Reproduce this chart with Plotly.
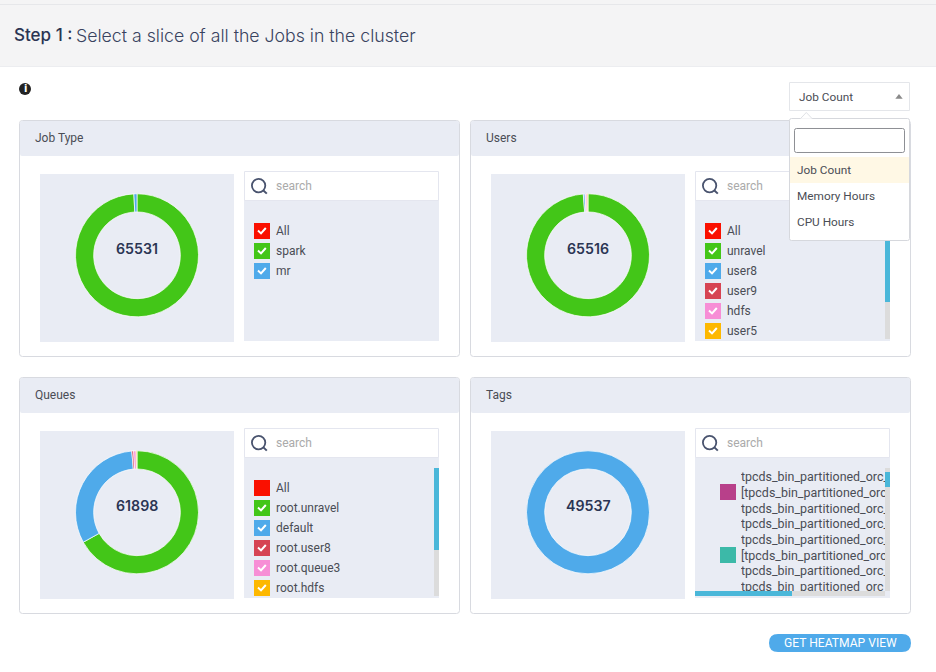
import plotly.graph_objects as go

W, H = 936, 672

# ---- data ----
job_labels = ["spark", "mr"]
job_values = [65000, 531]
job_colors = ["#43c618", "#4faaea"]

user_labels = ["unravel", "user8", "user9", "hdfs", "user5"]
user_values = [64716, 300, 100, 250, 150]
user_colors = ["#43c618", "#4faaea", "#d64453", "#f78ed6", "#fdb800"]

queue_labels = ["root.unravel", "default", "root.user8", "root.queue3", "root.hdfs"]
queue_values = [41420, 19640, 300, 400, 138]
queue_colors = ["#43c618", "#4faaea", "#d64453", "#f78ed6", "#fdb800"]

tag_labels = ["tpcds_bin_partitioned_orc"]
tag_values = [49537]
tag_colors = ["#4faaea"]

tag_rows = ["tpcds_bin_partitioned_orc_100", "[tpcds_bin_partitioned_orc_100", "tpcds_bin_partitioned_orc_100",
            "tpcds_bin_partitioned_orc_100", "tpcds_bin_partitioned_orc_100", "[tpcds_bin_partitioned_orc_100",
            "tpcds_bin_partitioned_orc_100", "tpcds_bin_partitioned_orc_100"]

dropdown_items = ["Job Count", "Memory Hours", "CPU Hours"]

# ---- palette ----
BAND = "#e9ecf4"
BORDER = "#d8dae0"
TXT = "#4a4d55"
NAVY = "#2b3553"
SCROLL = "#4ab7d9"
SCROLL_BG = "#dcdcdc"

px = lambda x: x / W
py = lambda y: 1 - y / H
shapes, notes = [], []


def rect(x0, y0, x1, y1, fill="rgba(0,0,0,0)", line=None, lw=1):
    shapes.append(dict(type="rect", xref="paper", yref="paper", layer="below",
                       x0=px(x0), x1=px(x1), y0=py(y0), y1=py(y1), fillcolor=fill,
                       line=dict(color=line or "rgba(0,0,0,0)", width=lw if line else 0)))


def path(d_pts, fill="rgba(0,0,0,0)", line=None, lw=1, close=False):
    d = "M " + " L ".join(f"{px(x):.5f},{py(y):.5f}" for x, y in d_pts) + (" Z" if close else "")
    shapes.append(dict(type="path", xref="paper", yref="paper", layer="below", path=d, fillcolor=fill,
                       line=dict(color=line or "rgba(0,0,0,0)", width=lw if line else 0)))


def rrect(x0, y0, x1, y1, r, fill="rgba(0,0,0,0)", line=None, lw=1):
    d = (f"M {px(x0+r):.5f},{py(y0):.5f} L {px(x1-r):.5f},{py(y0):.5f} "
         f"Q {px(x1):.5f},{py(y0):.5f} {px(x1):.5f},{py(y0+r):.5f} L {px(x1):.5f},{py(y1-r):.5f} "
         f"Q {px(x1):.5f},{py(y1):.5f} {px(x1-r):.5f},{py(y1):.5f} L {px(x0+r):.5f},{py(y1):.5f} "
         f"Q {px(x0):.5f},{py(y1):.5f} {px(x0):.5f},{py(y1-r):.5f} L {px(x0):.5f},{py(y0+r):.5f} "
         f"Q {px(x0):.5f},{py(y0):.5f} {px(x0+r):.5f},{py(y0):.5f} Z")
    shapes.append(dict(type="path", xref="paper", yref="paper", layer="below", path=d, fillcolor=fill,
                       line=dict(color=line or "rgba(0,0,0,0)", width=lw if line else 0)))


def text(x, y, s, size=12, color=TXT, anchor="left", family="Roboto", weight=None):
    notes.append(dict(x=px(x), y=py(y), xref="paper", yref="paper", text=s, showarrow=False,
                      xanchor=anchor, yanchor="middle", borderpad=0, borderwidth=0,
                      font=dict(size=size, color=color, family=family, weight=weight)))


def circle(cx, cy, r, fill="rgba(0,0,0,0)", line=None, lw=1):
    shapes.append(dict(type="circle", xref="paper", yref="paper", layer="below",
                       x0=px(cx-r), x1=px(cx+r), y0=py(cy+r), y1=py(cy-r), fillcolor=fill,
                       line=dict(color=line or "rgba(0,0,0,0)", width=lw if line else 0)))


def checkbox(x, y, color, checked=True):
    rect(x, y, x + 16, y + 16, fill=color)
    if checked:
        path([(x + 4, y + 7.6), (x + 7, y + 10.4), (x + 11.8, y + 5)], line="#ffffff", lw=2)


def panel(dx, dy, title, total, labels, values, colors, rows):
    rrect(19.5 + dx, 120.5 + dy, 459.5 + dx, 356.5 + dy, 3, fill="#ffffff", line=BORDER, lw=1)
    rrect(20 + dx, 121 + dy, 459 + dx, 156 + dy, 2, fill=BAND)
    text(35 + dx, 138 + dy, title)
    rect(40 + dx, 174 + dy, 234 + dx, 342 + dy, fill=BAND)
    rect(244 + dx, 200 + dy, 439 + dx, 341 + dy, fill=BAND)
    rect(244.5 + dx, 171.5 + dy, 438.5 + dx, 200.5 + dy, fill="#ffffff", line="#e4e6ef")
    circle(258.6 + dx, 185.6 + dy, 6.7, line="#49536e", lw=1.8)
    path([(263.4 + dx, 190.4 + dy), (266.8 + dx, 193.6 + dy)], line="#49536e", lw=2)
    text(276 + dx, 186 + dy, "search", color="#aaaaaa")
    text(137 + dx, 248.6 + dy, total, size=14.2, color=NAVY, anchor="center", family="Inter", weight=600)
    for i, (lab, col, chk) in enumerate(rows):
        checkbox(254 + dx, 223 + dy + 20 * i, col, chk)
        text(275.5 + dx, 231 + dy + 20 * i, lab)
    cx, cy = 137 + dx, 255.3 + dy
    return go.Pie(labels=labels, values=values, hole=0.705, sort=False, direction="clockwise", rotation=0,
                  marker=dict(colors=colors, line=dict(color="#ffffff", width=0.7)),
                  textinfo="none", showlegend=False, automargin=False,
                  domain=dict(x=[px(cx - 61.5), px(cx + 61.5)], y=[py(cy + 61.5), py(cy - 61.5)]))


# page header
rect(0, 0, W, 66, fill="#f4f4f5")
rect(0, 4, W, 4.8, fill="#e2e3e6")
rect(0, 66, W, 67, fill="#ecedf0")
text(14, 35, "Step 1 :", size=17, color=NAVY, family="Inter", weight=500)
text(76, 35, "Select a slice of all the Jobs in the cluster", size=17.7, color="#39435f", family="Inter", weight=300)
circle(25, 89, 6, fill="#222222")
text(25, 89, "i", size=10, color="#ffffff", anchor="center", family="DejaVu Sans", weight=700)

traces = [
    panel(0, 0, "Job Type", "65531", job_labels, job_values, job_colors,
          [("All", "#fa1000", True)] + [(l, c, True) for l, c in zip(job_labels, job_colors)]),
    panel(451, 0, "Users", "65516", user_labels, user_values, user_colors,
          [("All", "#fa1000", True)] + [(l, c, True) for l, c in zip(user_labels, user_colors)]),
    panel(0, 257, "Queues", "61898", queue_labels, queue_values, queue_colors,
          [("All", "#fa1000", False)] + [(l, c, True) for l, c in zip(queue_labels, queue_colors)]),
    panel(451, 257, "Tags", "49537", tag_labels, tag_values, tag_colors, []),
]

# scrollbars
rect(885, 200, 890, 302, fill=SCROLL)
rect(885, 302, 890, 339, fill=SCROLL_BG)
rect(434, 468, 439, 550, fill=SCROLL)
rect(434, 550, 439, 596, fill=SCROLL_BG)
rect(885, 468, 890, 591, fill=SCROLL_BG)
rect(885, 472, 890, 487, fill=SCROLL)
rect(695, 591, 885, 596, fill=SCROLL_BG)
rect(695, 591, 792, 596, fill=SCROLL)

# tags swatches
rect(720, 484, 736, 500, fill="#b8408a")
rect(720, 547, 736, 563, fill="#3cb9a8")

# tags text list, clipped by its own subplot
traces.append(go.Scatter(x=[0] * len(tag_rows), y=list(range(len(tag_rows))), text=tag_rows, mode="text",
                         textposition="middle right", cliponaxis=True, hoverinfo="skip", showlegend=False,
                         textfont=dict(family="Roboto", size=12.45, color=TXT)))

# dropdown
rect(789.5, 82.5, 909.5, 110.5, fill="#ffffff", line="#e4e6ea")
text(799, 97, "Job Count", size=11.8)
path([(895.3, 98.7), (902.7, 98.7), (899, 94)], fill="#8a8a8a", close=True)
rrect(789.5, 118.5, 909.5, 240.5, 2, fill="#ffffff", line="#d6d8dd")
path([(800.3, 118.8), (806.3, 112.5), (812.3, 118.8)], fill="#ffffff", line="#e0e2e6", close=False)
rrect(794.5, 128.5, 904.5, 152.5, 2, fill="#ffffff", line="#8d8f94")
rect(790, 157, 909, 183, fill="#fff8e5")
for i, item in enumerate(dropdown_items):
    text(797, 170 + 26 * i, item, size=11.8)

# button
rrect(769, 634, 911, 652, 9, fill="#4faaea")
text(840, 643, "GET HEATMAP VIEW", size=12.1, color="#ffffff", anchor="center")

fig = go.Figure(traces)
fig.update_layout(
    width=W, height=H, autosize=False, margin=dict(l=0, r=0, t=0, b=0, pad=0),
    paper_bgcolor="#ffffff", plot_bgcolor="rgba(0,0,0,0)", shapes=shapes, annotations=notes,
    font=dict(family="Roboto"), showlegend=False,
    xaxis=dict(domain=[px(741), px(885)], range=[0, 1], visible=False, fixedrange=True),
    yaxis=dict(domain=[py(591), py(468)], range=[7.19, -0.636], visible=False, fixedrange=True),
)
fig.write_html("out.html", config=dict(displayModeBar=False),
               post_script="document.body.style.margin='0';document.body.style.overflow='hidden';")
